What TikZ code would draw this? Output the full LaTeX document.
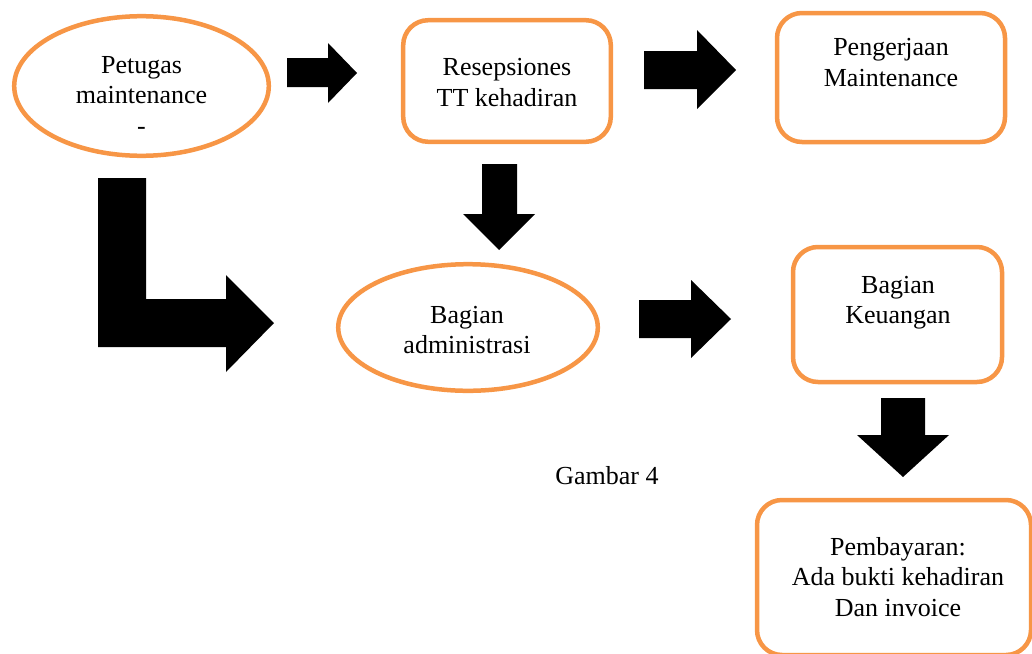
\documentclass[tikz,border=0pt]{standalone}
\usepackage{fontspec}
\setmainfont{Liberation Serif}
\usetikzlibrary{shapes.geometric}
\definecolor{boxorange}{HTML}{F79646}
\begin{document}
\begin{tikzpicture}[x=1pt,y=-1pt,
  ovalbox/.style={ellipse,draw=boxorange,line width=4.5pt,fill=white,inner sep=0pt,outer sep=0pt},
  roundbox/.style={rectangle,rounded corners=25pt,draw=boxorange,line width=4.5pt,fill=white,inner sep=0pt,outer sep=0pt},
  lbl/.style={align=center,inner sep=0pt,font=\fontsize{26}{30.5}\selectfont},
  blockarrow/.style={fill=black,draw=none}]
\useasboundingbox (0,0) rectangle (1032,653);
\clip (0,0) rectangle (1032,653);
% shapes
\node[ovalbox,minimum width=254.6pt,minimum height=139.6pt] (petugas) at (141.5,86) {};
\node[roundbox,minimum width=207.6pt,minimum height=121.6pt] (resep) at (507,81) {};
\node[roundbox,minimum width=228pt,minimum height=129pt] (kerja) at (891,77.5) {};
\node[ovalbox,minimum width=259.6pt,minimum height=126.6pt] (admin) at (468,327.5) {};
\node[roundbox,minimum width=209pt,minimum height=135pt] (uang) at (897.5,314.5) {};
\node[roundbox,minimum width=274pt,minimum height=155pt] (bayar) at (894,577.5) {};
% texts
\node[lbl] (tpetugas) at (141.5,95.3) {Petugas\\maintenance\\-};
\node[lbl] (tresep) at (507,82.3) {Resepsiones\\TT kehadiran};
\node[lbl] (tkerja) at (891,62.7) {Pengerjaan\\Maintenance};
\node[lbl] (tadmin) at (467,330) {Bagian\\administrasi};
\node[lbl] (tuang) at (898,302.6) {Bagian\\Keuangan};
\node[lbl] (tbayar) at (898,577) {Pembayaran:\\Ada bukti kehadiran\\Dan invoice};
\node[lbl] (gambar) at (607,476) {Gambar 4};
% block arrows
\fill[blockarrow] (287,58) -- (328,58) -- (328,43) -- (357,73) -- (328,103) -- (328,87) -- (287,87) -- cycle;
\fill[blockarrow] (644,51) -- (697,51) -- (697,30) -- (736,70) -- (697,109) -- (697,89) -- (644,89) -- cycle;
\fill[blockarrow] (482,164) -- (517,164) -- (517,214) -- (535,214) -- (499,250) -- (463,214) -- (482,214) -- cycle;
\fill[blockarrow] (98,178) -- (146,178) -- (146,299) -- (226,299) -- (226,275) -- (274,323) -- (226,372) -- (226,347) -- (98,347) -- cycle;
\fill[blockarrow] (639,300) -- (691,300) -- (691,280) -- (731,319) -- (691,358) -- (691,338) -- (639,338) -- cycle;
\fill[blockarrow] (881,398) -- (925,398) -- (925,435) -- (949,435) -- (903,477) -- (857,435) -- (881,435) -- cycle;
\end{tikzpicture}
\end{document}
